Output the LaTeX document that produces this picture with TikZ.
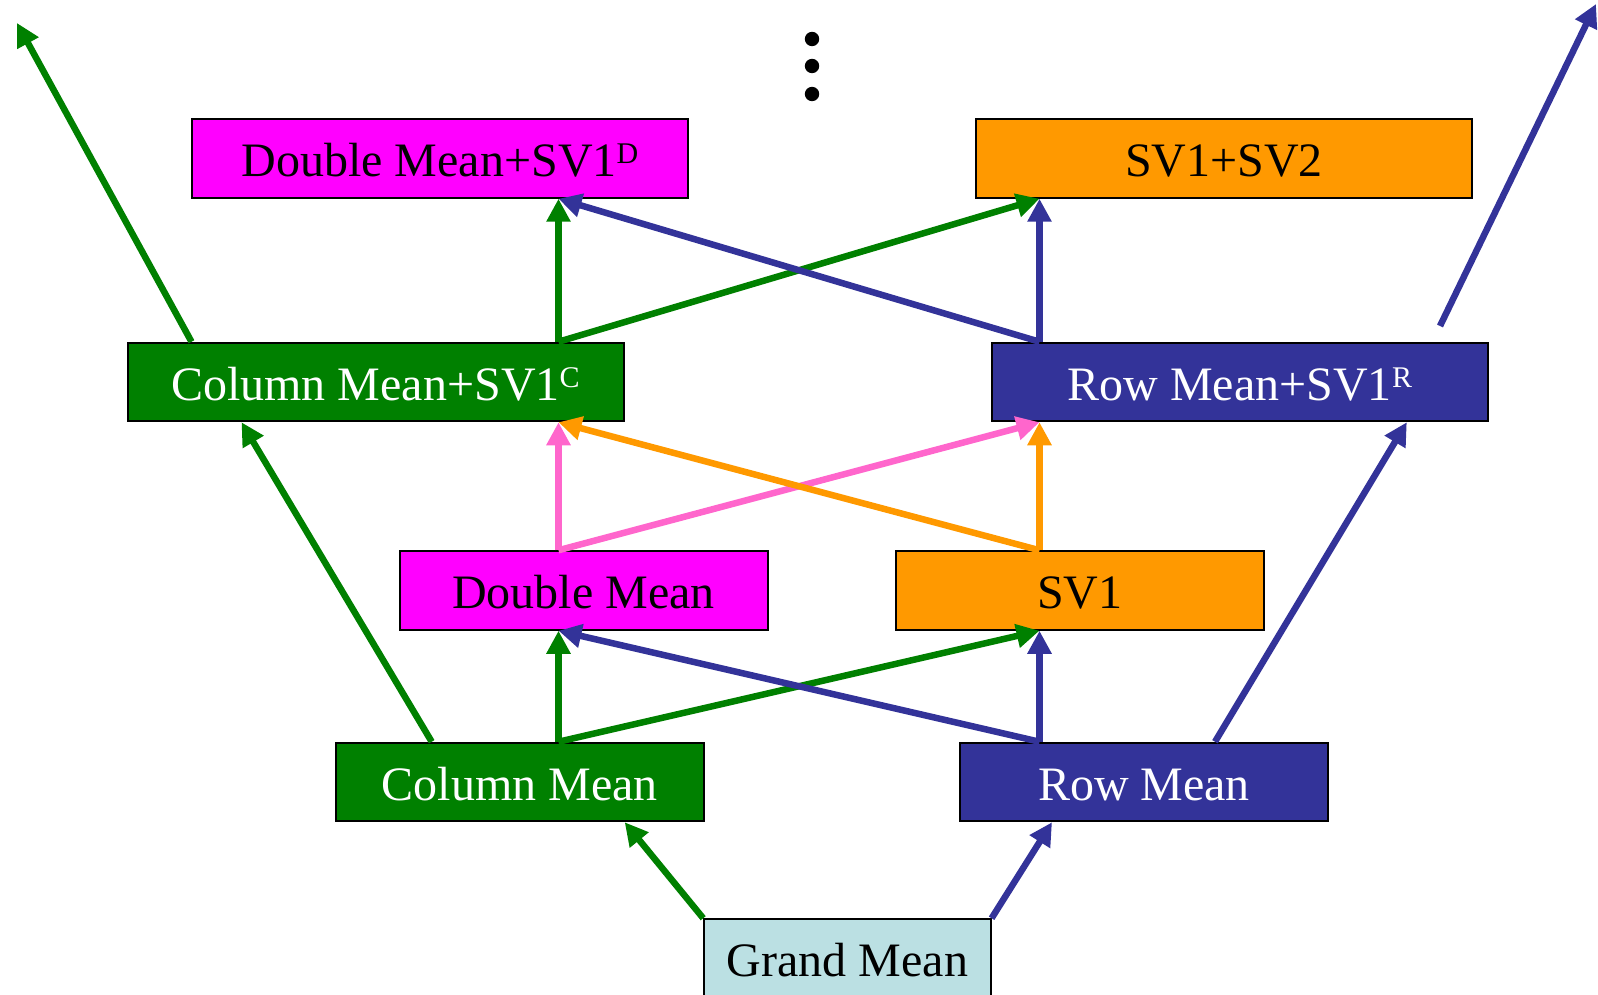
\documentclass[tikz,border=0pt]{standalone}
\usepackage{fontspec}
\setmainfont{Liberation Serif}
\usetikzlibrary{arrows.meta}
\definecolor{cgreen}{HTML}{008000}
\definecolor{cblue}{HTML}{333399}
\definecolor{cmag}{HTML}{FF00FF}
\definecolor{corange}{HTML}{FF9900}
\definecolor{cpink}{HTML}{FF66CC}
\definecolor{clight}{HTML}{BBE0E3}
\newcommand\supx[1]{\raisebox{13pt}{\fontsize{30}{30}\selectfont #1}}
\tikzset{
  box/.style={draw=black, line width=2pt, inner sep=0pt, minimum height=78.5pt,
    font=\fontsize{48}{56}\selectfont, text height=36pt, text depth=0pt},
  wide/.style={box, minimum width=496pt},
  narrow/.style={box, minimum width=368pt},
  conn/.style={line width=6.5pt, -{Triangle[length=23pt,width=23pt]}},
}
\begin{document}
\begin{tikzpicture}[x=1pt,y=-1pt]
\useasboundingbox (0,0) rectangle (1598,995);
% nodes
\node[wide, fill=cmag] (dmsv) at (440,158.5) {Double Mean+SV1\supx{D}};
\node[wide, fill=corange] (sv12) at (1224,158.5) {SV1+SV2};
\node[wide, fill=cgreen, text=white] (cmsv) at (375.5,382) {Column Mean+SV1\supx{C}};
\node[wide, fill=cblue, text=white] (rmsv) at (1239.8,382) {Row Mean+SV1\supx{R}};
\node[narrow, fill=cmag] (dm) at (583.5,590.5) {Double Mean};
\node[narrow, fill=corange] (sv1) at (1079.7,590.5) {SV1};
\node[narrow, fill=cgreen, text=white] (cm) at (519.7,782) {Column Mean};
\node[narrow, fill=cblue, text=white] (rm) at (1144,782) {Row Mean};
\node[box, minimum width=286.4pt, fill=clight] (gm) at (847.4,958.5) {Grand Mean};
% helper x positions
\coordinate (L) at (558.5,0);
\coordinate (R) at (1039.5,0);
\coordinate (tl) at (17,23);
\coordinate (tr0) at (1440,326);
\coordinate (tr) at (1596,4);
% dots
\fill (812,39) circle (7.2);
\fill (812,66) circle (7.2);
\fill (812,94) circle (7.2);
% connectors
\draw[conn, cgreen] (gm.north west) -- ([xshift=290pt]cm.south west);
\draw[conn, cblue] (gm.north east) -- ([xshift=93pt]rm.south west);
\draw[conn, cgreen] ([xshift=97pt]cm.north west) -- ([xshift=115pt]cmsv.south west);
\draw[conn, cblue] ([xshift=256pt]rm.north west) -- ([xshift=-82pt]rmsv.south east);
\draw[conn, cgreen] (cm.north -| L) -- (dm.south -| L);
\draw[conn, cgreen] (cm.north -| L) -- (sv1.south -| R);
\draw[conn, cblue] (rm.north -| R) -- (sv1.south -| R);
\draw[conn, cblue] (rm.north -| R) -- (dm.south -| L);
\draw[conn, cpink] (dm.north -| L) -- (cmsv.south -| L);
\draw[conn, cpink] (dm.north -| L) -- (rmsv.south -| R);
\draw[conn, corange] (sv1.north -| R) -- (rmsv.south -| R);
\draw[conn, corange] (sv1.north -| R) -- (cmsv.south -| L);
\draw[conn, cgreen] (cmsv.north -| L) -- (dmsv.south -| L);
\draw[conn, cgreen] (cmsv.north -| L) -- (sv12.south -| R);
\draw[conn, cblue] (rmsv.north -| R) -- (sv12.south -| R);
\draw[conn, cblue] (rmsv.north -| R) -- (dmsv.south -| L);
\draw[conn, cgreen] ([xshift=65pt]cmsv.north west) -- (tl);
\draw[conn, cblue] (tr0) -- (tr);
\end{tikzpicture}
\end{document}
